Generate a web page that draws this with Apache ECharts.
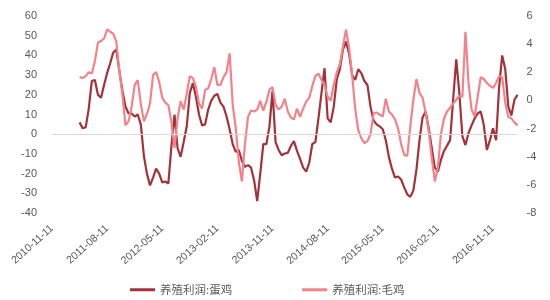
<!DOCTYPE html>
<html>
<head>
<meta charset="utf-8">
<script src="https://cdn.jsdelivr.net/npm/echarts@6/dist/echarts.min.js"></script>
<style>html,body{margin:0;padding:0;background:#fff;}#c{width:550px;height:300px;}</style>
</head>
<body>
<div id="c"></div>
<script>
// Half-month categories from 2010-11-11 to 2017-03-11
const startYear = 2010, startMonth = 11, monthCount = 76;
const categories = [];
for (let k = 0; k <= monthCount; k++) {
  const m0 = startMonth - 1 + k;
  const y = startYear + Math.floor(m0 / 12);
  const m = (m0 % 12) + 1;
  const mm = (m < 10 ? '0' : '') + m;
  categories.push(y + '-' + mm + '-11');
  if (k < monthCount) categories.push(y + '-' + mm + '-26');
}
const tickLabels = ['2010-11-11','2011-08-11','2012-05-11','2013-02-11','2013-11-11','2014-08-11','2015-05-11','2016-02-11','2016-11-11'];
const seriesNames = ['养殖利润:蛋鸡', '养殖利润:毛鸡'];

// 蛋鸡 (left axis)
const layerProfit = [null,null,null,null,null,null,null,null,null,
  6,3,3.5,13,27,27.5,20,18.5,25,31,36,41.5,43,32,22,14,10.5,10.5,9,10,
  5,-11,-20,-26,-22,-17.5,-20,-24.5,-24,-25,-6,10,-7,-11.5,-4,4,21,26,19,10,
  4.5,5,12.5,17,19.5,20.5,16,14,9,2.5,-5,-9,-8,-13.5,-16.6,-15.7,-17,-23.5,-34,-20,
  -5,-5,4,22,-4,-8,-10.7,-9.8,-9.5,-6,-3.5,-8.5,-12.5,-17,-19,-14.5,-5,-4,8,21,
  33.5,8,6,14,28,33,43,47,41,30,27.5,33,31,27,25,14,7,5,4,2.5,
  -3,-11.5,-17.5,-22,-21.5,-23,-27,-30.5,-31.8,-28.5,-18,-3,8.5,11.5,3,-7,-17,-19,-13,-8.5,
  -5.8,-3,18,38,21,-1,-5.5,0.5,4.5,8,10.5,11.5,4.5,-8,-3,3,-3,24,40,33,
  14,9.5,17.5,20];

// 毛鸡 (right axis)
const broilerProfit = [null,null,null,null,null,null,null,null,null,
  1.66,1.59,1.73,2.01,1.91,2.78,4.11,4.22,4.40,5.06,4.88,4.74,4.18,2.08,0.40,-1.77,-1.49,-0.45,1.10,1.45,
  -0.23,-1.49,-0.96,-0.22,1.80,2.01,1.31,0.19,-0.16,-0.34,-1.56,-3.38,-1.28,-0.05,-0.65,0.48,1.73,1.59,0.96,-0.23,
  -0.58,0.75,0.86,1.52,2.36,1.10,1.10,1.66,2.01,3.34,-0.30,-1.98,-4.36,-5.76,-3.10,-1.17,-0.72,-0.79,-0.65,-0.02,
  -0.72,-0.09,0.75,0.96,-0.30,-0.65,-0.44,0.12,-0.79,-1.21,-1.35,-0.58,-1.17,-0.58,-0.09,0.19,1.03,1.73,1.91,1.45,
  1.10,0.26,-0.02,1.10,2.01,2.57,3.83,5.02,3.76,1.80,-0.58,-2.12,-2.68,-3.03,-2.89,-2.40,-0.93,-0.86,-1.00,-1.14,
  0.12,-0.79,-1.00,-1.35,-1.98,-3.10,-3.87,-3.94,-1.84,0.05,1.52,0.54,0.19,-0.86,-2.19,-4.08,-5.76,-4.78,-2.40,-1.28,
  -0.79,-0.51,-0.23,0.05,0.33,0.26,4.88,1.24,-0.65,-1.14,0.26,1.66,1.52,1.24,1.03,0.89,1.24,1.73,1.66,-0.16,
  -1.17,-1.28,-1.56,-1.77];

const textColor = '#595959';
const chart = echarts.init(document.getElementById('c'), null, {renderer: 'canvas'});
chart.setOption({
  animation: false,
  backgroundColor: '#fff',
  grid: {left: 52, right: 32.5, top: 16, bottom: 87, containLabel: false},
  legend: {
    left: 125, top: 279, itemGap: 70, itemWidth: 25, itemHeight: 3, icon: 'rect',
    textStyle: {color: textColor, fontSize: 11.5, fontFamily: 'Noto Sans CJK SC'},
    data: seriesNames
  },
  xAxis: {
    type: 'category', data: categories, boundaryGap: false,
    axisLine: {show: false}, axisTick: {show: false}, splitLine: {show: false},
    axisLabel: {
      interval: 0, rotate: 42, margin: 14, color: textColor, fontSize: 10.5, fontFamily: 'Liberation Sans',
      formatter: v => tickLabels.indexOf(v) >= 0 ? v : ''
    }
  },
  yAxis: [
    {type: 'value', min: -40, max: 60, interval: 10, position: 'left',
     axisLine: {show: false}, axisTick: {show: false}, splitLine: {show: false},
     axisLabel: {color: textColor, fontSize: 11, margin: 15, fontFamily: 'Liberation Sans'}},
    {type: 'value', min: -8, max: 6, interval: 2, position: 'right',
     axisLine: {show: false}, axisTick: {show: false}, splitLine: {show: false},
     axisLabel: {color: textColor, fontSize: 11, margin: 9, fontFamily: 'Liberation Sans'}}
  ],
  series: [
    {name: seriesNames[0], type: 'line', yAxisIndex: 0, data: layerProfit, showSymbol: false, symbol: 'none',
     lineStyle: {color: '#a3323a', width: 2.2}, itemStyle: {color: '#a3323a'},
     markLine: {silent: true, symbol: 'none', label: {show: false},
       lineStyle: {color: '#d9d9d9', width: 1, type: 'solid'}, data: [{yAxis: 0}]}},
    {name: seriesNames[1], type: 'line', yAxisIndex: 1, data: broilerProfit, showSymbol: false, symbol: 'none',
     lineStyle: {color: '#f2838b', width: 2.2}, itemStyle: {color: '#f2838b'}}
  ]
});
</script>
</body>
</html>
